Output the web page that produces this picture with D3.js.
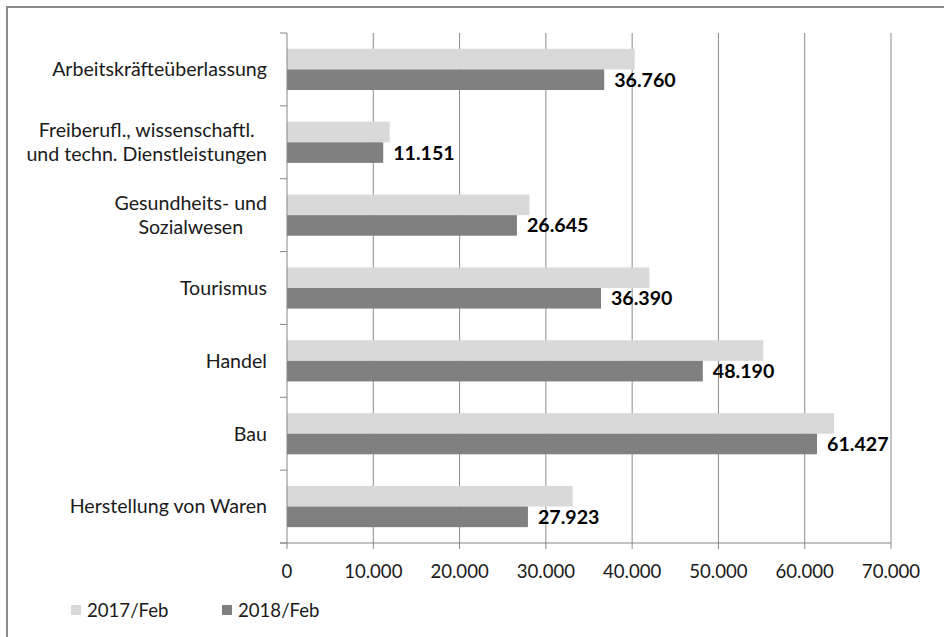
<!DOCTYPE html>
<html>
<head>
<meta charset="utf-8">
<script src="https://cdn.jsdelivr.net/npm/d3@7"></script>
<style>
  html, body { margin: 0; padding: 0; background: #fff; }
  svg { display: block; }
  text { font-family: Lato, "Open Sans", sans-serif; }
</style>
</head>
<body>
<script>
// Categories, top to bottom; multi-line labels are split on "\n"
const categories = [
  "Arbeitskräfteüberlassung",
  "Freiberufl., wissenschaftl.\nund techn. Dienstleistungen",
  "Gesundheits- und\nSozialwesen",
  "Tourismus",
  "Handel",
  "Bau",
  "Herstellung von Waren"
];
const seriesNames = ["2017/Feb", "2018/Feb"];
const values2017 = [40300, 11900, 28100, 42000, 55200, 63400, 33100];
const values2018 = [36760, 11151, 26645, 36390, 48190, 61427, 27923];
const xTicks = [0, 10000, 20000, 30000, 40000, 50000, 60000, 70000];
const seriesColors = ["#d9d9d9", "#808080"];

const W = 944, H = 637;
const plot = { left: 287, right: 891, top: 33, bottom: 543 };
const labelSize = 19.6;
const tickSize = 18.6;

const svg = d3.select("body").append("svg").attr("width", W).attr("height", H);

// outer frame
svg.append("rect")
  .attr("x", 7).attr("y", 7).attr("width", W).attr("height", H)
  .attr("fill", "none").attr("stroke", "#8a8a8a").attr("stroke-width", 2);

const x = d3.scaleLinear().domain([0, 70000]).range([plot.left, plot.right]);
const y0 = d3.scaleBand().domain(categories).range([plot.top, plot.bottom]).padding(0);
const y1 = d3.scaleBand().domain(seriesNames).range([0, y0.bandwidth()])
  .paddingInner(0).paddingOuter(0.77);

const fmt = v => d3.format(",")(v).replace(/,/g, ".");

// vertical gridlines
svg.append("g").selectAll("line").data(xTicks.slice(1)).join("line")
  .attr("x1", d => x(d)).attr("x2", d => x(d))
  .attr("y1", plot.top).attr("y2", plot.bottom + 6)
  .attr("stroke", "#8c8c8c").attr("stroke-width", 1);

// bars
const rows = categories.map((c, i) => ({ c, vals: [values2017[i], values2018[i]] }));
const groups = svg.append("g").selectAll("g").data(rows).join("g")
  .attr("transform", d => `translate(0,${y0(d.c)})`);
groups.selectAll("rect").data(d => d.vals.map((v, k) => ({ v, s: seriesNames[k], k })))
  .join("rect")
  .attr("x", x(0))
  .attr("y", d => y1(d.s))
  .attr("width", d => x(d.v) - x(0))
  .attr("height", y1.bandwidth())
  .attr("fill", d => seriesColors[d.k]);

// value labels for 2018
groups.append("text")
  .attr("x", d => x(d.vals[1]) + 10)
  .attr("y", y1(seriesNames[1]) + y1.bandwidth() / 2)
  .attr("dy", "0.36em")
  .attr("font-size", labelSize)
  .attr("font-weight", "bold")
  .attr("fill", "#000")
  .text(d => fmt(d.vals[1]));

// category axis
const axisColor = "#868686";
const catAxis = svg.append("g");
catAxis.append("line")
  .attr("x1", plot.left).attr("x2", plot.left)
  .attr("y1", plot.top).attr("y2", plot.bottom)
  .attr("stroke", axisColor);
const catTicks = categories.map(c => y0(c)).concat([plot.bottom]);
catAxis.selectAll("line.tick").data(catTicks).join("line").attr("class", "tick")
  .attr("x1", plot.left - 7).attr("x2", plot.left)
  .attr("y1", d => d).attr("y2", d => d)
  .attr("stroke", axisColor);

// category labels: block right-aligned, lines centred on each other
const lineH = 24;
categories.forEach(c => {
  const lines = c.split("\n");
  const cy = y0(c) + y0.bandwidth() / 2;
  const g = svg.append("g");
  const texts = lines.map((ln, j) => g.append("text")
    .attr("y", cy + (j - (lines.length - 1) / 2) * lineH)
    .attr("dy", "0.35em")
    .attr("font-size", labelSize)
    .attr("fill", "#1a1a1a")
    .text(ln));
  const widths = texts.map(t => t.node().getComputedTextLength());
  const maxW = d3.max(widths);
  const centre = 267 - maxW / 2;
  texts.forEach(t => t.attr("x", centre).attr("text-anchor", "middle"));
});

// value axis
const xAxis = svg.append("g");
xAxis.append("line")
  .attr("x1", plot.left - 7).attr("x2", plot.right)
  .attr("y1", plot.bottom).attr("y2", plot.bottom)
  .attr("stroke", axisColor);
xAxis.selectAll("line.tick").data([0]).join("line").attr("class", "tick")
  .attr("x1", x(0)).attr("x2", x(0))
  .attr("y1", plot.bottom).attr("y2", plot.bottom + 6)
  .attr("stroke", axisColor);
xAxis.selectAll("text").data(xTicks).join("text")
  .attr("x", d => x(d))
  .attr("y", 571)
  .attr("dy", "0.35em")
  .attr("text-anchor", "middle")
  .attr("font-size", tickSize)
  .attr("fill", "#1a1a1a")
  .text(d => fmt(d));

// legend
const legendX = [71, 222];
const legend = svg.append("g").selectAll("g").data(seriesNames).join("g")
  .attr("transform", (d, i) => `translate(${legendX[i]},610)`);
legend.append("rect")
  .attr("x", 0).attr("y", -5).attr("width", 10).attr("height", 10)
  .attr("fill", (d, i) => seriesColors[i]);
legend.append("text")
  .attr("x", 16).attr("dy", "0.35em")
  .attr("font-size", tickSize)
  .attr("fill", "#1a1a1a")
  .text(d => d);
</script>
</body>
</html>
